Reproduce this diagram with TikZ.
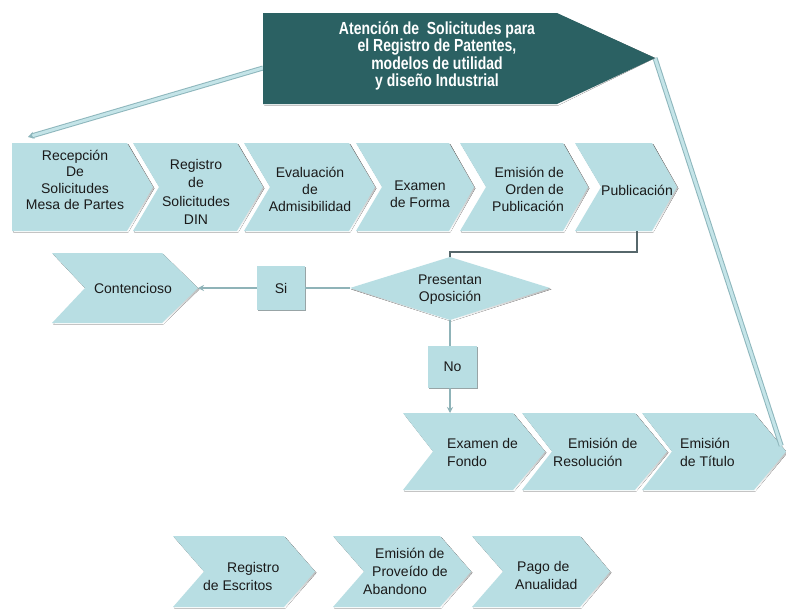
\documentclass[tikz,border=0pt]{standalone}
\usepackage{fontspec}
\setmainfont{Liberation Sans}
\newfontfamily\titlefont[FakeStretch=0.8]{Liberation Sans}
\usetikzlibrary{arrows.meta,calc,shadows}

\definecolor{chevfill}{HTML}{B8DEE3}
\definecolor{titlefill}{HTML}{2B6163}
\definecolor{shade}{HTML}{98A4A6}
\definecolor{linklight}{HTML}{8FB3B8}
\definecolor{linkdark}{HTML}{56676B}
\definecolor{railout}{HTML}{8DB6BC}
\definecolor{railin}{HTML}{C4E4E8}
\definecolor{ink}{HTML}{1A1A1A}

% chevron: name, left x, notch depth, top-right x, tip depth, top y, bottom y
\newcommand\chevshape[7]{%
  \fill[shade, shift={(1.3,1.3)}] (#2,#6) -- (#4,#6) -- ({#4+#5},{(#6+#7)/2}) -- (#4,#7) -- (#2,#7) -- ({#2+#3},{(#6+#7)/2}) -- cycle;
  \fill[chevfill] (#2,#6) -- (#4,#6) -- ({#4+#5},{(#6+#7)/2}) -- (#4,#7) -- (#2,#7) -- ({#2+#3},{(#6+#7)/2}) -- cycle;
  \coordinate (#1-nw) at (#2,#6);
  \coordinate (#1-ne) at (#4,#6);
  \coordinate (#1-tip) at ({#4+#5},{(#6+#7)/2});
  \coordinate (#1-s) at ({(#2+#4)/2},#7);
}

\tikzset{
  lbl/.style={font=\fontsize{14}{16.5}\selectfont, text=ink, inner sep=0pt, align=center},
  lblwide/.style={lbl, font=\fontsize{14}{18}\selectfont},
  flowbox/.style={fill=chevfill, inner sep=0pt, font=\fontsize{14}{16.5}\selectfont, text=ink,
    drop shadow={shadow xshift=1.3pt, shadow yshift=-1.3pt, fill=shade, opacity=1}},
  rail/.style={draw=railout, double=railin, double distance=3pt, line width=1pt},
  linklt/.style={draw=linklight, line width=1.8pt},
  linkdk/.style={draw=linkdark, line width=1.1pt},
}

\begin{document}
\begin{tikzpicture}[x=1pt, y=-1pt]
\useasboundingbox (0,0) rectangle (786,611);
\fill[white] (0,0) rectangle (786,611);

% title banner anchors
\coordinate (title-w) at (263,68);
\coordinate (title-tip) at (655,58);

% first row of process steps
\chevshape{recep}{12}{0}{127}{26}{143}{231}
\chevshape{regdin}{133}{26}{237}{26}{143}{231}
\chevshape{evalu}{244}{26}{349}{26}{143}{231}
\chevshape{forma}{356}{26}{449}{25}{143}{231}
\chevshape{orden}{460}{26}{563}{25}{143}{231}
\chevshape{pub}{575}{26}{652}{25}{143}{231}

% opposition branch
\chevshape{cont}{52}{33}{162}{36}{253}{323}

\fill[shade, shift={(1.3,1.3)}] (350,288) -- (450,257) -- (550,288) -- (450,320) -- cycle;
\fill[chevfill] (350,288) -- (450,257) -- (550,288) -- (450,320) -- cycle;
\coordinate (opos-n) at (450,257);
\coordinate (opos-s) at (450,320);
\coordinate (opos-w) at (350,288);

% second row
\chevshape{fondo}{403}{30}{513}{32}{413}{490}
\chevshape{resol}{522}{30}{635}{32}{413}{490}
\chevshape{titulo}{642}{30}{754}{32}{413}{490}

% bottom row
\chevshape{escr}{173}{31}{284}{31}{536}{607}
\chevshape{aband}{333}{31}{440}{31}{536}{607}
\chevshape{anual}{472}{31}{580}{30}{536}{607}

% rails from the banner
\draw[rail, -{Stealth[length=6pt,width=7pt]}] (title-w) -- ($(recep-nw)+(16,-6)$);
\draw[rail] (title-tip) -- ($(titulo-ne)!0.85!(titulo-tip)$);

% banner on top
\fill[shade, shift={(1.3,1.3)}] (263,13) -- (557,13) -- (title-tip) -- (557,104) -- (263,104) -- cycle;
\fill[titlefill] (263,13) -- (557,13) -- (title-tip) -- (557,104) -- (263,104) -- cycle;
\node[font=\titlefont\bfseries\fontsize{17.5}{17.3}\selectfont, text=white, align=center, inner sep=0pt]
  (title) at (437,56) {Atención de\ \ Solicitudes para\\el Registro de Patentes,\\modelos de utilidad\\y diseño Industrial};

% labels, first row
\node[lbl] (recept) at (75,180) {Recepción\\De\\Solicitudes\\Mesa de Partes};
\node[lbl, font=\fontsize{14}{18.5}\selectfont] (regdint) at (196,192) {Registro\\de\\Solicitudes\\DIN};
\node[lbl, font=\fontsize{14}{17}\selectfont] (evalut) at (310,189) {Evaluación\\de\\Admisibilidad};
\node[lbl, font=\fontsize{14}{17}\selectfont] (format) at (420,194) {Examen\\de Forma};
\node[lbl, font=\fontsize{14}{17}\selectfont, align=right, anchor=east] (ordent) at (564,189) {Emisión de\\Orden de\\Publicación};
\node[lbl] (pubt) at (637,190) {Publicación};

% labels, branch
\node[lbl, font=\fontsize{14}{17}\selectfont] (opost) at (450,290) {Presentan\\Oposición};
\node[lbl] (contt) at (133,288) {Contencioso};
\node[flowbox, minimum width=48pt, minimum height=44pt] (si) at (281,288) {Si};
\node[flowbox, minimum width=49pt, minimum height=42pt] (no) at (452.5,367) {No};

% labels, second row
\node[lblwide, align=left, anchor=west] (fondot) at (447,452) {Examen de\\Fondo};
\node[lblwide, align=left, anchor=west] (resolt) at (553,452) {\hspace*{15pt}Emisión de\\Resolución};
\node[lblwide, align=left, anchor=west] (titulot) at (680,452) {Emisión\\de Título};

% labels, bottom row
\node[lblwide, align=left, anchor=west] (escrt) at (203,576) {\hspace*{24pt}Registro\\de Escritos};
\node[lblwide, align=left, anchor=west] (abandt) at (363,571) {\hspace*{12pt}Emisión de\\\hspace*{9pt}Proveído de\\Abandono};
\node[lblwide, align=left, anchor=west] (anualt) at (515,575) {\hspace*{2pt}Pago de\\Anualidad};

% flow connectors
\draw[linkdk] (pubt |- pub-s) -- ++(0,21) -| (opos-n);
\draw[linklt] (opos-w) -- (si.east);
\draw[linklt, -{Stealth[length=6pt,width=6pt]}] (si.west) -- (cont-tip);
\draw[linklt] (opos-s) -- (opos-s |- no.north);
\draw[linklt, -{Stealth[length=6pt,width=6pt]}] (opos-s |- no.south) -- (opos-s |- fondo-nw);
\end{tikzpicture}
\end{document}
